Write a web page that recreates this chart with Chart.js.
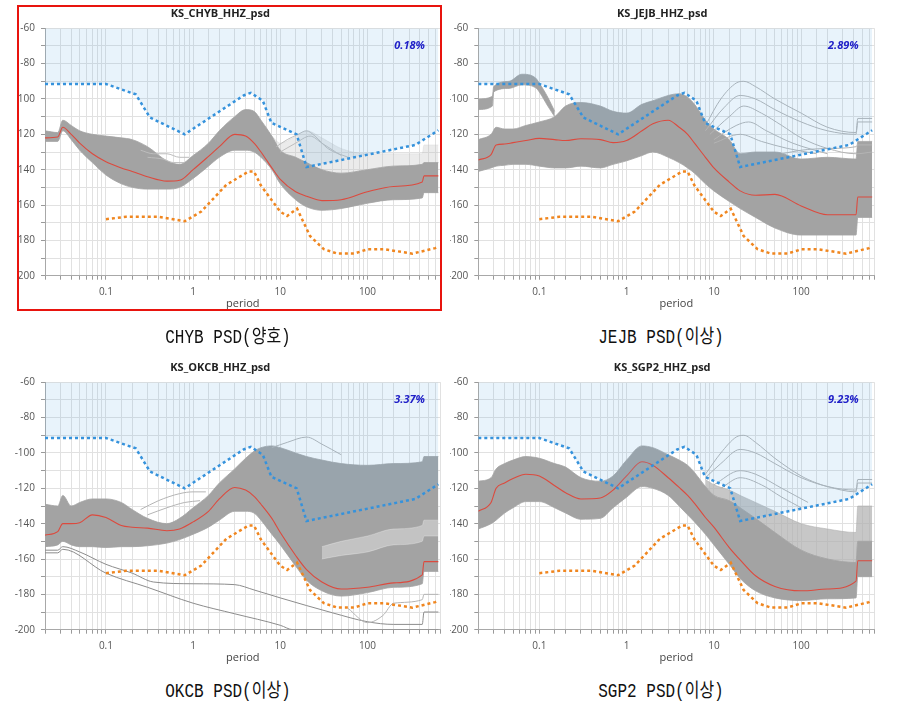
<!DOCTYPE html>
<html>
<head>
<meta charset="utf-8">
<script src="https://cdn.jsdelivr.net/npm/chart.js@4.4.0/dist/chart.umd.min.js"></script>
<style>
  body { margin: 0; background: #fff; width: 899px; height: 709px; position: relative; overflow: hidden; }
  .panel { position: absolute; }
  .caption { position: absolute; width: 300px; height: 20px; line-height: 20px; text-align: center;
             font-size: 16px; font-family: "Liberation Mono", "Noto Sans CJK KR", monospace;
             color: #111; transform: scaleY(1.22); }
  #hl { position: absolute; left: 17px; top: 5px; width: 421px; height: 302px; border: 2px solid #e8140e; pointer-events: none; }
</style>
</head>
<body>
<div class="panel" style="left:0;top:0;width:450px;height:320px"><canvas id="c1"></canvas></div>
<div class="panel" style="left:450px;top:0;width:449px;height:320px"><canvas id="c2"></canvas></div>
<div class="panel" style="left:0;top:354px;width:450px;height:320px"><canvas id="c3"></canvas></div>
<div class="panel" style="left:450px;top:354px;width:449px;height:320px"><canvas id="c4"></canvas></div>
<div id="hl"></div>
<div class="caption" style="left:78px;top:328px">CHYB PSD(양호)</div>
<div class="caption" style="left:511px;top:328px">JEJB PSD(이상)</div>
<div class="caption" style="left:78px;top:682px">OKCB PSD(이상)</div>
<div class="caption" style="left:511px;top:682px">SGP2 PSD(이상)</div>
<script>
// noise models (dB)
const nhnmPeriods = [0.02, 0.1, 0.22, 0.32, 0.8, 3.8, 4.6, 6.3, 7.9, 15.4, 20, 354.8, 650];
const nhnmValues = [-91.5, -91.5, -97.4, -110.5, -120, -98, -96.5, -101, -113.5, -120, -138.5, -126, -117.7];
const nlnmPeriods = [0.1, 0.17, 0.4, 0.8, 1.24, 2.4, 4.3, 5, 6, 10, 12, 15.6, 21.9, 31.6, 45, 70, 101, 154, 328, 600, 650];
const nlnmValues = [-168, -166.7, -166.7, -169.2, -163.7, -148.6, -141.1, -141.1, -149, -163.8, -166.2, -162.1, -177.5, -185, -187.5, -187.5, -185, -185, -187.5, -184.4, -183.5];

// common period grid for the grey envelopes and the red mode line
const periods = [0.02, 0.028, 0.032, 0.04, 0.05, 0.07, 0.1, 0.15, 0.2, 0.3, 0.5, 0.7, 1, 1.5, 2, 3, 4, 5, 6, 8, 10, 15, 20, 30, 50, 100, 200, 425, 445, 650];

const chybTop = [-118, -119, -112, -115, -118, -120, -121, -122, -123, -127, -135, -137, -132, -125, -118, -110, -106, -107, -112, -121, -129, -133, -136, -140, -142, -140, -138, -137, -136, -136];
const chybBottom = [-124, -124, -118, -123, -129, -136, -143, -148, -150, -151, -151, -150, -145, -138, -133, -129, -129, -130, -133, -140, -148, -157, -161, -163, -162, -159, -157, -156, -153, -153];
const chybMode = [-122, -121.5, -116, -120, -125, -131, -135.5, -139, -141, -144, -146.5, -146, -140, -132.5, -127, -120, -121, -125, -130, -139, -145.5, -152.5, -155, -157.5, -157, -152.5, -149.5, -147, -143.5, -143.5];

const jejbTop = [-123, -120, -116, -117, -117, -115, -113, -110, -104, -102, -104, -107, -108, -103, -101, -98, -97, -99, -103, -112, -117, -123, -131, -130, -130, -134, -133, -134, -124, -124];
const jejbBottom = [-141, -139, -138, -137.5, -137, -137, -138, -139, -139, -138, -139, -137, -135, -132, -130, -133, -136, -139, -142, -148, -152, -158, -162, -167, -173, -177, -177, -177, -167, -167];
const jejbMode = [-134.5, -131.5, -126, -125.5, -124.7, -123.5, -122.3, -123, -123.5, -122.5, -123, -124.7, -123.5, -118, -114, -112, -116, -120, -125, -133, -139, -147, -152, -154.5, -154, -160.5, -165.5, -165.5, -155.5, -155.5];

const okcbTop = [-129, -130, -124, -130, -128, -126, -126, -128, -132, -137, -140, -137, -131, -124, -117, -109, -103, -99, -97, -96, -97, -100, -102, -104, -106, -107, -106, -105, -102, -102];
const okcbBottom = [-153, -152, -150, -152, -153, -153, -153.5, -153, -153, -152.5, -151, -149, -146, -142, -138, -133, -133, -134, -138, -146, -152, -164, -172, -178, -181, -179, -176, -174, -167, -167];
const okcbMode = [-146.5, -144.5, -140, -140, -139.5, -135, -136.5, -141, -142, -142.5, -144, -143, -139, -133, -126, -119.5, -121, -124.5, -129, -137, -145, -158, -166, -173, -177, -176, -173.5, -169, -161.5, -161.5];

const sgp2Top = [-116, -114, -109, -106, -104, -102, -103, -106, -108, -114, -116, -113, -104, -96, -97, -101, -104, -107, -111, -119, -124, -127, -131, -137, -145, -155, -160, -162, -150, -150];
const sgp2Bottom = [-143, -140, -138, -134, -131, -127.5, -127.5, -131, -134, -137.5, -137, -131, -125, -119, -120, -124, -130, -135, -139, -146, -152, -163, -171, -178, -182, -183.5, -182.5, -182, -170, -170];
const sgp2Mode = [-133, -128, -120, -117, -114.5, -112, -113, -118.5, -122.5, -126, -125.5, -121, -113, -105, -107, -114, -119.5, -124, -128.5, -136.5, -142, -153.5, -160.5, -169.5, -175.5, -178, -177, -172.5, -161, -161];

// extra clusters and stray curves
const hazePeriods = [8, 10, 15, 20, 30, 50, 100, 200, 425, 445, 650];
const chybHazeTop = [-121, -125, -121, -118, -122, -128, -131, -131, -131, -126, -126];
const chybHazeBottom = [-121, -129, -133, -136, -140, -142, -140, -138, -137, -136, -136];
const sgp2HazeTop = [-115, -118, -121, -124, -128, -133, -140, -143, -145, -130, -130];
const sgp2HazeBottom = [-119, -124, -127, -131, -137, -145, -155, -160, -162, -150, -150];

const jejbLobePeriods = [0.02, 0.029, 0.03, 0.045, 0.063, 0.09, 0.1, 0.125, 0.15];
const jejbLobeTop = [-100, -98.5, -93, -90, -86, -88, -91, -99, -107];
const jejbLobeBottom = [-106, -104, -96, -94, -92, -93.5, -96, -104, -110];

const okcbStreakPeriods = [30, 50, 100, 200, 425, 445, 650];
const okcbStreakTop = [-153, -150, -147, -143, -141, -138, -138];
const okcbStreakBottom = [-160, -158, -156, -152, -150, -147, -147];

const strayLines = {
  c1: [
    [[0.25, 0.35, 0.5, 0.7, 0.9], [-129, -131, -131, -133, -133]],
    [[0.3, 0.45, 0.6, 0.8], [-133, -134, -136, -136]],
    [[9, 12, 16, 20, 25, 35, 60], [-127, -123, -120, -118, -121, -128, -133]],
    [[10, 15, 22, 30, 50], [-130, -125, -121, -125, -132]]
  ],
  c2: [
    [[8, 12, 18, 22, 30, 50, 100, 200, 425, 445, 650], [-115, -100, -91, -90, -93, -100, -108, -116, -119, -111, -111]],
    [[8, 13, 20, 30, 50, 100, 200, 425, 445, 650], [-118, -105, -98, -100, -106, -113, -118, -120, -113, -113]],
    [[9, 15, 22, 35, 60, 100, 200, 425, 650], [-120, -110, -104, -108, -115, -122, -128, -131, -130]],
    [[10, 18, 25, 40, 80, 200], [-123, -115, -113, -118, -125, -131]],
    [[10, 20, 35, 70, 150], [-125, -120, -124, -128, -131]],
    [[60, 100, 200, 425, 445, 650], [-131, -129, -128, -127, -126, -126]]
  ],
  c3: [
    [[0.25, 0.4, 0.7, 1, 1.4], [-132, -127, -123, -122, -122]],
    [[0.3, 0.5, 0.8, 1.2], [-135, -131, -128, -127]],
    [[8, 12, 20, 30, 50], [-97, -94, -91, -95, -101]],
    [[60, 100, 150, 200, 425, 445, 650], [-188, -196, -192, -185, -183, -180, -180]]
  ],
  c4: [
    [[8, 12, 18, 22, 30, 50, 100, 150, 200, 425, 445, 650], [-112, -100, -91, -90, -94, -103, -113, -117, -119, -121, -115, -115]],
    [[8, 12, 20, 30, 50, 100, 200, 425, 445, 650], [-114, -106, -98, -100, -106, -114, -119, -122, -117, -117]],
    [[10, 20, 30, 60, 120], [-118, -110, -112, -120, -128]],
    [[12, 20, 35, 60, 100], [-120, -114, -118, -125, -131]]
  ]
};
const okcbLowLines = [
  [[0.02, 0.028, 0.032, 0.05, 0.1, 0.2, 0.35, 1, 3, 5, 10, 40, 100, 200, 425, 445, 650],
   [-155, -155, -153, -156, -163, -168, -173, -174, -174.5, -177.5, -182, -190.5, -195.5, -197, -197, -190, -190]],
  [[0.02, 0.028, 0.032, 0.1, 0.3, 1, 3, 10, 14, 650],
   [-156.5, -156.5, -154.5, -168, -176, -185, -191, -197.5, -200, -200]]
];

const GREY = '#a3a3a3';

function series(xs, ys) {
  return xs.map((x, i) => ({ x: x, y: ys[i] }));
}

function band(xs, top, bottom, color, order) {
  return [
    { data: series(xs, top), borderColor: color, backgroundColor: color, borderWidth: 0.8, fill: '+1', order: order, smooth: true },
    { data: series(xs, bottom), borderColor: color, borderWidth: 0.8, fill: false, order: order, smooth: true }
  ];
}

function line(xs, ys, color, order, width) {
  return { data: series(xs, ys), borderColor: color, borderWidth: width || 1, fill: false, order: order, smooth: true };
}

function modelSets(mode) {
  return [
    { data: series(nhnmPeriods, nhnmValues), borderColor: '#3592dc', borderWidth: 2.5, borderDash: [3, 3],
      backgroundColor: 'rgba(100,175,228,0.15)', fill: 'end', order: 0 },
    { data: series(nlnmPeriods, nlnmValues), borderColor: '#f0861f', borderWidth: 2.5, borderDash: [3, 3],
      fill: false, order: 1 },
    line(periods, mode, '#dc4a3e', 2, 1.1)
  ];
}

const pctPlugin = {
  id: 'pctLabel',
  afterDatasetsDraw(chart, args, opts) {
    const ctx = chart.ctx;
    const a = chart.chartArea;
    ctx.save();
    ctx.font = 'italic bold 11px "Open Sans", sans-serif';
    ctx.fillStyle = '#2020c8';
    ctx.textAlign = 'center';
    ctx.textBaseline = 'middle';
    ctx.fillText(opts.text, a.right - 31, a.top + 18);
    ctx.restore();
  }
};

Chart.defaults.font.family = '"Open Sans", sans-serif';

function isDecade(v) {
  const l = Math.log10(v);
  return Math.abs(l - Math.round(l)) < 1e-6;
}

function makeChart(id, title, pct, yWidth, padRight, dropMinus, datasets) {
  datasets.forEach(d => {
    d.pointRadius = 0;
    if (d.smooth) { d.cubicInterpolationMode = 'monotone'; }
    else { d.tension = 0; }
  });
  return new Chart(document.getElementById(id), {
    type: 'line',
    data: { datasets: datasets },
    plugins: [pctPlugin],
    options: {
      responsive: true,
      maintainAspectRatio: false,
      animation: false,
      events: [],
      layout: { padding: { left: 0, right: padRight, top: 0, bottom: 0 } },
      plugins: {
        legend: { display: false },
        tooltip: { enabled: false },
        title: { display: true, text: title, color: '#222', font: { size: 11, weight: 'bold' }, padding: { top: 7.5, bottom: 7.6 } },
        pctLabel: { text: pct }
      },
      scales: {
        x: {
          type: 'logarithmic',
          min: 0.02,
          max: 690,
          afterFit: s => { s.height = 44.3; },
          grid: { color: '#e1e1e1', tickColor: '#9a9a9a', tickLength: 4 },
          border: { color: '#a8a8a8' },
          ticks: {
            autoSkip: false, maxRotation: 0, padding: 6, color: '#555', font: { size: 10 },
            callback: v => isDecade(v) ? String(Number(v.toPrecision(3))) : ''
          },
          title: { display: true, text: 'period', color: '#444', font: { size: 11 }, padding: { top: 0, bottom: 9.4 } }
        },
        y: {
          min: -200,
          max: -60,
          afterFit: s => { s.width = yWidth; },
          grid: { color: '#e1e1e1', tickColor: '#9a9a9a', tickLength: 4 },
          border: { color: '#a8a8a8' },
          ticks: {
            stepSize: 10, autoSkip: false, padding: 6, color: '#555', font: { size: 10 },
            callback: v => (v % 20 === 0) ? String(dropMinus && v <= -100 ? -v : v) : ''
          }
        }
      }
    }
  });
}

const c1Sets = modelSets(chybMode)
  .concat(strayLines.c1.map(l => line(l[0], l[1], '#bdbdbd', 3)))
  .concat(band(periods, chybTop, chybBottom, GREY, 5))
  .concat(band(hazePeriods, chybHazeTop, chybHazeBottom, 'rgba(190,190,190,0.3)', 6));
makeChart('c1', 'KS_CHYB_HHZ_psd', '0.18%', 45, 9.4, true, c1Sets);

const c2Sets = modelSets(jejbMode)
  .concat(strayLines.c2.map(l => line(l[0], l[1], '#b4b4b4', 3)))
  .concat(band(periods, jejbTop, jejbBottom, GREY, 5))
  .concat(band(jejbLobePeriods, jejbLobeTop, jejbLobeBottom, GREY, 5));
makeChart('c2', 'KS_JEJB_HHZ_psd', '2.89%', 28.3, 24.6, false, c2Sets);

const c3Sets = modelSets(okcbMode)
  .concat(strayLines.c3.map(l => line(l[0], l[1], '#b4b4b4', 3)))
  .concat(okcbLowLines.map(l => line(l[0], l[1], '#8c8c8c', 3)))
  .concat(band(okcbStreakPeriods, okcbStreakTop, okcbStreakBottom, 'rgba(255,255,255,0.35)', 4))
  .concat(band(periods, okcbTop, okcbBottom, GREY, 5));
makeChart('c3', 'KS_OKCB_HHZ_psd', '3.37%', 45, 9.4, false, c3Sets);

const c4Sets = modelSets(sgp2Mode)
  .concat(strayLines.c4.map(l => line(l[0], l[1], '#b4b4b4', 3)))
  .concat(band(periods, sgp2Top, sgp2Bottom, GREY, 5))
  .concat(band(hazePeriods, sgp2HazeTop, sgp2HazeBottom, 'rgba(175,175,175,0.7)', 6));
makeChart('c4', 'KS_SGP2_HHZ_psd', '9.23%', 28.3, 24.6, false, c4Sets);
</script>
</body>
</html>
